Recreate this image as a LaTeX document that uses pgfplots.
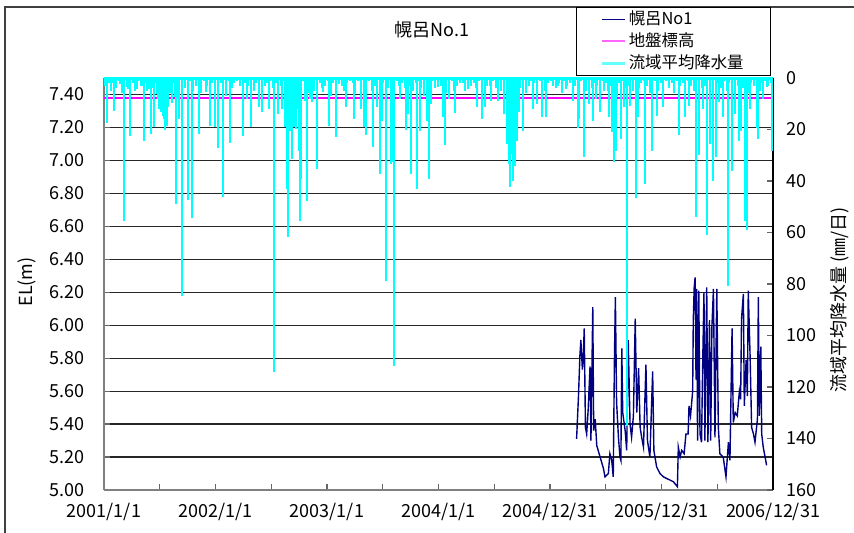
\documentclass[border=0pt]{standalone}
\usepackage{fontspec}
\setmainfont{Noto Sans CJK JP}
\usepackage{pgfplots}
\pgfplotsset{compat=1.18}

\definecolor{gwblue}{RGB}{0,0,128}
\definecolor{rain}{RGB}{0,255,255}
\definecolor{ground}{RGB}{255,0,255}

\begin{document}
\begin{tikzpicture}
\useasboundingbox (-52pt,-21.5pt) rectangle (375pt,245pt);
\draw[black!75, line width=0.75pt] (-49.5pt,-30pt) -- (-49.5pt,241.5pt) -- (380pt,241.5pt);

% left axis: groundwater level
\begin{axis}[
    at={(0,0)}, anchor=south west,
    scale only axis, width=334.5pt, height=206pt,
    xmin=0, xmax=2190, ymin=5, ymax=7.5,
    axis x line*=bottom, axis y line*=left,
    axis line style={-, black!50, line width=1pt},
    xtick={0,365,730,1095,1460,1825,2190},
    xticklabels={2001/1/1,2002/1/1,2003/1/1,2004/1/1,2004/12/31,2005/12/31,2006/12/31},
    minor xtick={182.5,547.5,912.5,1277.5,1642.5,2007.5},
    ytick={5.0,5.2,5.4,5.6,5.8,6.0,6.2,6.4,6.6,6.8,7.0,7.2,7.4},
    y tick label style={/pgf/number format/fixed, /pgf/number format/fixed zerofill,
        /pgf/number format/precision=2, xshift=-6pt},
    x tick label style={yshift=-3pt},
    ymajorgrids, grid style={black!85, line width=0.6pt},
    tick align=inside, major tick length=3pt, minor tick length=3pt,
    tick style={black!60, line width=0.6pt},
    tick label style={font=\fontsize{9}{10}\selectfont},
    /pgf/number format/assume math mode=true,
    legend cell align=left,
    legend image code/.code={\path[draw=none] (0pt,0pt) -- (11.5pt,0pt);
        \draw[#1] (0pt,0pt) -- (11.5pt,0pt);},
    legend style={at={(axis description cs:0.997,1.1723)}, anchor=north east,
        inner xsep=12pt, inner ysep=0.5pt,
        font=\fontsize{8.2}{9}\selectfont,
        nodes={inner sep=1.5pt, text height=6.5pt, text depth=1.5pt}},
]
\addlegendimage{draw=gwblue, line width=0.8pt}
\addlegendentry{幌呂No1}
\addlegendimage{draw=ground!60, line width=1pt}
\addlegendentry{地盤標高}
\addlegendimage{draw=rain!60, line width=1.2pt}
\addlegendentry{流域平均降水量}
\addplot[gwblue, line width=0.7pt, forget plot] coordinates {
(1547,5.31) (1553,5.56) (1558,5.82) (1561,5.91) (1566,5.73) (1569,5.81) (1572,5.98)
(1576,5.38) (1580,5.34) (1585,5.49) (1591,5.75) (1594,5.30) (1600,6.11) (1603,5.36)
(1608,5.43) (1613,5.27) (1624,5.20) (1635,5.13) (1640,5.08) (1651,5.10) (1656,5.22)
(1662,5.18) (1667,5.08) (1671,5.81) (1674,6.17) (1678,5.53) (1684,5.32) (1689,5.20)
(1692,5.18) (1695,5.86) (1698,5.47) (1706,5.36) (1711,5.24) (1716,5.91) (1722,5.40)
(1727,5.32) (1733,5.45) (1739,6.04) (1744,5.47) (1750,5.74) (1755,5.38) (1760,5.32)
(1766,5.26) (1774,5.76) (1779,5.30) (1787,5.20) (1796,5.72) (1800,5.24) (1809,5.14)
(1820,5.10) (1831,5.08) (1842,5.07) (1853,5.06) (1864,5.05) (1877,5.02) (1880,5.26)
(1886,5.20) (1891,5.24) (1899,5.22) (1905,5.34) (1912,5.34) (1915,5.51) (1920,5.45)
(1927,5.60) (1929,6.03) (1932,6.23) (1935,6.29) (1938,5.67) (1940,6.22) (1943,5.30)
(1947,6.21) (1951,5.34) (1956,5.29) (1960,5.79) (1964,6.20) (1967,5.30) (1973,6.23)
(1977,5.29) (1982,6.03) (1986,5.30) (1990,5.99) (1995,6.22) (2000,5.32) (2006,6.22)
(2011,5.38) (2016,5.22) (2027,5.20) (2036,5.08) (2044,5.29) (2049,5.18) (2056,5.98)
(2060,5.41) (2066,5.47) (2073,5.45) (2080,5.60) (2084,5.55) (2087,6.04) (2093,6.19)
(2096,5.51) (2102,5.79) (2106,5.57) (2109,6.21) (2115,5.81) (2120,5.38) (2126,5.34)
(2131,5.29) (2139,5.43) (2142,6.17) (2145,5.45) (2150,5.87) (2153,5.34) (2158,5.26)
(2164,5.20) (2169,5.15)};
\addplot[ground, line width=0.8pt, forget plot] coordinates {(0,7.38) (2190,7.38)};
\end{axis}

% right axis: precipitation (reversed)
\begin{axis}[
    at={(0,0)}, anchor=south west,
    scale only axis, width=334.5pt, height=206pt,
    xmin=0, xmax=2190, ymin=0, ymax=160, y dir=reverse,
    axis x line=none, axis y line*=right,
    axis line style={-, black, line width=0.6pt},
    ytick={0,20,40,60,80,100,120,140,160},
    y tick label style={xshift=3pt},
    tick align=inside, major tick length=3pt,
    tick style={black!60, line width=0.6pt},
    tick label style={font=\fontsize{9}{10}\selectfont},
    /pgf/number format/assume math mode=true,
]
\addplot[rain, line width=2pt] coordinates {(0,0) (2190,0)};
\addplot[rain, ycomb, line width=1pt] coordinates {
(4,3) (13,1) (22,5) (31,2) (40,4) (49,1) (58,6) (67,2) (76,3) (85,1)
(94,2) (103,5) (112,1) (121,3) (130,7) (139,2) (148,1) (157,4) (166,2) (175,6)
(184,1) (193,3) (202,2) (211,5) (220,1) (229,2) (238,8) (247,3) (256,1) (265,4)
(274,2) (283,1) (292,5) (301,3) (310,2) (319,6) (328,1) (337,3) (346,4) (355,2)
(364,5) (373,1) (382,2) (391,3) (400,7) (409,1) (418,4) (427,2) (436,1) (445,3)
(454,6) (463,2) (472,3) (481,1) (490,5) (499,2) (508,4) (517,1) (526,3) (535,2)
(544,1) (553,4) (562,2) (571,6) (580,3) (589,1) (598,2) (607,5) (616,1) (625,3)
(634,4) (643,2) (652,1) (661,3) (670,6) (679,2) (688,5) (697,1) (706,2) (715,4)
(724,3) (733,1) (742,7) (751,2) (760,4) (769,1) (778,3) (787,5) (796,2) (805,1)
(814,2) (823,6) (832,1) (841,3) (850,4) (859,2) (868,1) (877,5) (886,3) (895,2)
(904,5) (913,2) (922,1) (931,4) (940,2) (949,6) (958,1) (967,3) (976,2) (985,4)
(994,1) (1003,3) (1012,5) (1021,2) (1030,1) (1039,4) (1048,7) (1057,2) (1066,3) (1075,1)
(1084,4) (1093,2) (1102,3) (1111,1) (1120,6) (1129,2) (1138,1) (1147,5) (1156,3) (1165,2)
(1174,2) (1183,5) (1192,1) (1201,3) (1210,2) (1219,4) (1228,1) (1237,6) (1246,2) (1255,3)
(1264,3) (1273,1) (1282,4) (1291,2) (1300,5) (1309,1) (1318,3) (1327,2) (1336,7) (1345,1)
(1354,1) (1363,4) (1372,2) (1381,6) (1390,3) (1399,1) (1408,2) (1417,5) (1426,1) (1435,3)
(1444,5) (1453,2) (1462,1) (1471,3) (1480,4) (1489,2) (1498,6) (1507,1) (1516,3) (1525,2)
(1534,2) (1543,3) (1552,6) (1561,1) (1570,2) (1579,5) (1588,1) (1597,4) (1606,2) (1615,3)
(1624,4) (1633,1) (1642,2) (1651,5) (1660,3) (1669,1) (1678,7) (1687,2) (1696,1) (1705,4)
(1714,3) (1723,2) (1732,5) (1741,1) (1750,4) (1759,2) (1768,1) (1777,3) (1786,6) (1795,2)
(1804,1) (1813,5) (1822,2) (1831,3) (1840,1) (1849,4) (1858,2) (1867,6) (1876,1) (1885,3)
(1894,2) (1903,4) (1912,1) (1921,3) (1930,5) (1939,2) (1948,1) (1957,4) (1966,3) (1975,2)
(1984,6) (1993,1) (2002,3) (2011,2) (2020,4) (2029,1) (2038,5) (2047,2) (2056,3) (2065,1)
(2074,3) (2083,2) (2092,4) (2101,1) (2110,6) (2119,2) (2128,3) (2137,1) (2146,5) (2155,2)
(2164,1) (2173,3) (2182,2)};
\addplot[rain, ycomb, line width=1pt] coordinates {
(11,17.6) (17,2) (33,13) (52,2.5) (64,55.4) (74,3.6) (80,4.3) (85,22.5) (105,4.3)
(109,4.3) (125,3) (132,24.3) (140,5) (148,4.3) (153,21.8) (164,19.2) (172,6.2)
(178,8) (181,12) (184,6) (187,13.3) (190,9) (192,14.6) (195,16) (199,20.2) (202,7)
(205,18.5) (208,10) (211,11.4) (215,6) (219,5) (224,9.8) (232,7.5) (237,49)
(246,15.9) (255,84.5) (276,47.3) (287,54.5) (312,21.8) (334,5.6) (347,18.5)
(363,19.2) (374,27) (388,46.3) (414,25.4) (456,22.4) (467,8.2) (481,19.2)
(507,11.1) (518,13.3)
(540,12) (558,114) (570,14) (583,12) (591,19) (595,9) (598,43) (603,61.6) (606,12)
(609,20.5) (612,8) (615,31.5) (618,10) (622,19) (626,7) (630,20) (634,12) (637,28.5)
(641,55.7) (646,39.2) (659,8.8) (666,47.9) (673,8.2) (682,9.5) (696,35.3) (717,5.6)
(736,18.5) (760,23) (768,2.3) (791,11.4) (819,15.9) (840,12) (851,19.2) (859,22)
(882,26.7) (895,11.4) (903,37.3) (909,16.6) (922,78.7) (939,33.4) (943,32.8)
(949,112) (968,8.2) (987,20.2) (995,14) (1004,37.3) (1026,43) (1034,20.5)
(1056,16.6) (1065,39.2) (1069,10)
(1092,3.6) (1109,15.3) (1116,25.9) (1128,8.2) (1149,13.7) (1190,4.3) (1220,11.4)
(1237,15.9) (1247,11.4) (1267,8.8) (1289,8.8) (1308,14) (1319,25.6) (1325,33.4)
(1329,42.2) (1333,29.5) (1339,39.9) (1345,34) (1351,24.3) (1360,13.3) (1371,20.7)
(1381,4.9) (1403,12) (1416,10) (1434,15.3) (1448,15.3) (1485,3) (1512,4.3)
(1536,8.8) (1551,19.5) (1556,15.9) (1572,30.5) (1589,10) (1601,16.8) (1611,8.2)
(1625,13.3) (1638,4.9)
(1652,15.3) (1663,21.1) (1670,32.7) (1676,28.2) (1694,23.7) (1702,11.4) (1712,135)
(1722,10.7) (1742,46.6) (1749,15) (1771,41) (1795,28.5) (1811,14.6) (1829,11.4)
(1881,22) (1902,15.3) (1914,10.7) (1937,54.1) (1948,29.8) (1962,12) (1974,60.8)
(1984,25.6) (1995,40.1) (2002,30.8) (2013,9.5) (2026,15.3) (2041,80.7) (2055,36)
(2065,14) (2079,24.3) (2086,20.7) (2097,55.7) (2106,59) (2115,12) (2137,19.4)
(2141,23.7) (2158,8.2) (2171,3.6) (2188,28.5)};
\end{axis}

\node[font=\fontsize{9}{10}\selectfont] at (164pt,230pt) {幌呂No.1};
\node[rotate=90, font=\fontsize{9}{10}\selectfont] at (-38.5pt,104pt) {EL(m)};
\node[rotate=90, font=\fontsize{9}{10}\selectfont] at (368pt,95pt) {流域平均降水量 (㎜/日)};
\end{tikzpicture}
\end{document}
